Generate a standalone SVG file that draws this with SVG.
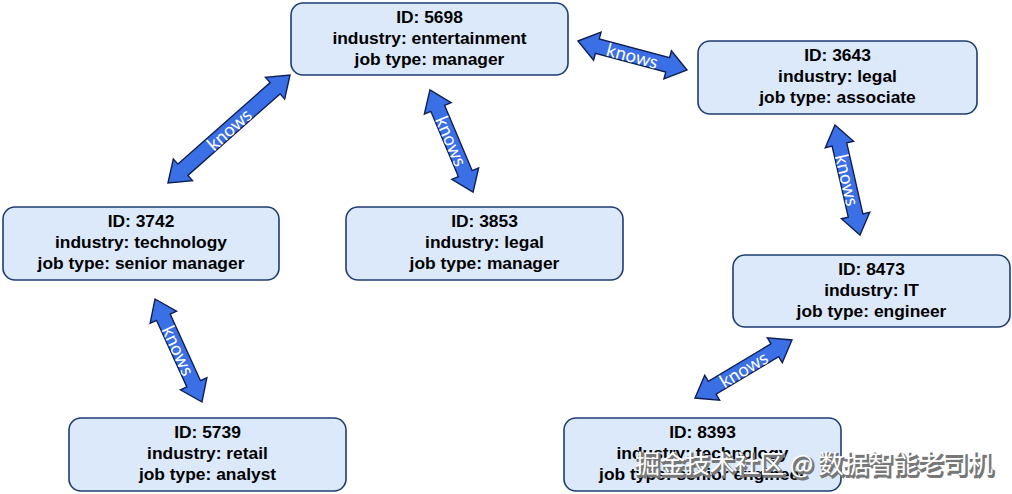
<svg xmlns="http://www.w3.org/2000/svg" width="1012" height="494" viewBox="0 0 1012 494">
<style>
.box{fill:#dce9fb;stroke:#1f3b73;stroke-width:1.6}
.t{font-family:"Liberation Sans",Arial,sans-serif;font-weight:bold;font-size:17.4px;fill:#000;text-anchor:middle}
.arr{fill:#3a6fe6;stroke:#0f1f52;stroke-width:1.4;stroke-linejoin:miter}
.lbl{font-family:Lato,"Open Sans",sans-serif;font-size:18.5px;fill:#fff;text-anchor:middle;dominant-baseline:central}
.wm{font-family:"Noto Sans CJK SC","Noto Sans",sans-serif;font-size:25px}
</style>
<rect width="1012" height="494" fill="#fff"/>
<g id="connectors">
<g transform="translate(229,129) rotate(-41.5)"><path class="arr" d="M-81.5,0 L-61.5,-14.5 L-61.5,-7.5 L61.5,-7.5 L61.5,-14.5 L81.5,0 L61.5,14.5 L61.5,7.5 L-61.5,7.5 L-61.5,14.5 Z"/><text class="lbl" x="0" y="0">knows</text></g>
<g transform="translate(632.5,55.5) rotate(14.9)"><path class="arr" d="M-56.4,0 L-36.4,-14.5 L-36.4,-7.5 L36.4,-7.5 L36.4,-14.5 L56.4,0 L36.4,14.5 L36.4,7.5 L-36.4,7.5 L-36.4,14.5 Z"/><text class="lbl" x="0" y="0">knows</text></g>
<g transform="translate(451.5,141) rotate(67.1)"><path class="arr" d="M-55.4,0 L-35.4,-14.5 L-35.4,-7.5 L35.4,-7.5 L35.4,-14.5 L55.4,0 L35.4,14.5 L35.4,7.5 L-35.4,7.5 L-35.4,14.5 Z"/><text class="lbl" x="0" y="0">knows</text></g>
<g transform="translate(847.5,180) rotate(77.2)"><path class="arr" d="M-56.4,0 L-36.4,-14.5 L-36.4,-7.5 L36.4,-7.5 L36.4,-14.5 L56.4,0 L36.4,14.5 L36.4,7.5 L-36.4,7.5 L-36.4,14.5 Z"/><text class="lbl" x="0" y="0">knows</text></g>
<g transform="translate(743.5,369) rotate(-30.9)"><path class="arr" d="M-56.5,0 L-36.5,-14.5 L-36.5,-7.5 L36.5,-7.5 L36.5,-14.5 L56.5,0 L36.5,14.5 L36.5,7.5 L-36.5,7.5 L-36.5,14.5 Z"/><text class="lbl" x="0" y="0">knows</text></g>
<g transform="translate(178.5,350.5) rotate(65.5)"><path class="arr" d="M-56.6,0 L-36.6,-14.5 L-36.6,-7.5 L36.6,-7.5 L36.6,-14.5 L56.6,0 L36.6,14.5 L36.6,7.5 L-36.6,7.5 L-36.6,14.5 Z"/><text class="lbl" x="0" y="0">knows</text></g>
</g>
<g id="n5698"><rect class="box" x="291" y="3" width="277" height="72" rx="12"/><text class="t" x="429.5" y="23">ID: 5698</text><text class="t" x="429.5" y="44">industry: entertainment</text><text class="t" x="429.5" y="65">job type: manager</text></g>
<g id="n3643"><rect class="box" x="698" y="41" width="279" height="73" rx="12"/><text class="t" x="837.5" y="61">ID: 3643</text><text class="t" x="837.5" y="82">industry: legal</text><text class="t" x="837.5" y="103">job type: associate</text></g>
<g id="n3742"><rect class="box" x="3" y="207" width="276" height="73" rx="12"/><text class="t" x="141" y="227">ID: 3742</text><text class="t" x="141" y="248">industry: technology</text><text class="t" x="141" y="269">job type: senior manager</text></g>
<g id="n3853"><rect class="box" x="346" y="207" width="277" height="73" rx="12"/><text class="t" x="484.5" y="227">ID: 3853</text><text class="t" x="484.5" y="248">industry: legal</text><text class="t" x="484.5" y="269">job type: manager</text></g>
<g id="n8473"><rect class="box" x="733" y="255" width="277" height="72" rx="12"/><text class="t" x="871.5" y="275">ID: 8473</text><text class="t" x="871.5" y="296">industry: IT</text><text class="t" x="871.5" y="317">job type: engineer</text></g>
<g id="n5739"><rect class="box" x="69" y="418" width="277" height="73" rx="12"/><text class="t" x="207.5" y="438">ID: 5739</text><text class="t" x="207.5" y="459">industry: retail</text><text class="t" x="207.5" y="480">job type: analyst</text></g>
<g id="n8393"><rect class="box" x="564" y="418" width="277" height="73" rx="12"/><text class="t" x="702.5" y="438">ID: 8393</text><text class="t" x="702.5" y="459">industry: technology</text><text class="t" x="702.5" y="480">job type: senior engineer</text></g>
<g id="watermark">
<text class="wm" x="636.5" y="474.5" textLength="358" fill="#777" stroke="#777" stroke-width="2">掘金技术社区 @ 数据智能老司机</text>
<text class="wm" x="635" y="473" textLength="358" fill="#fff">掘金技术社区 @ 数据智能老司机</text>
</g>
</svg>
